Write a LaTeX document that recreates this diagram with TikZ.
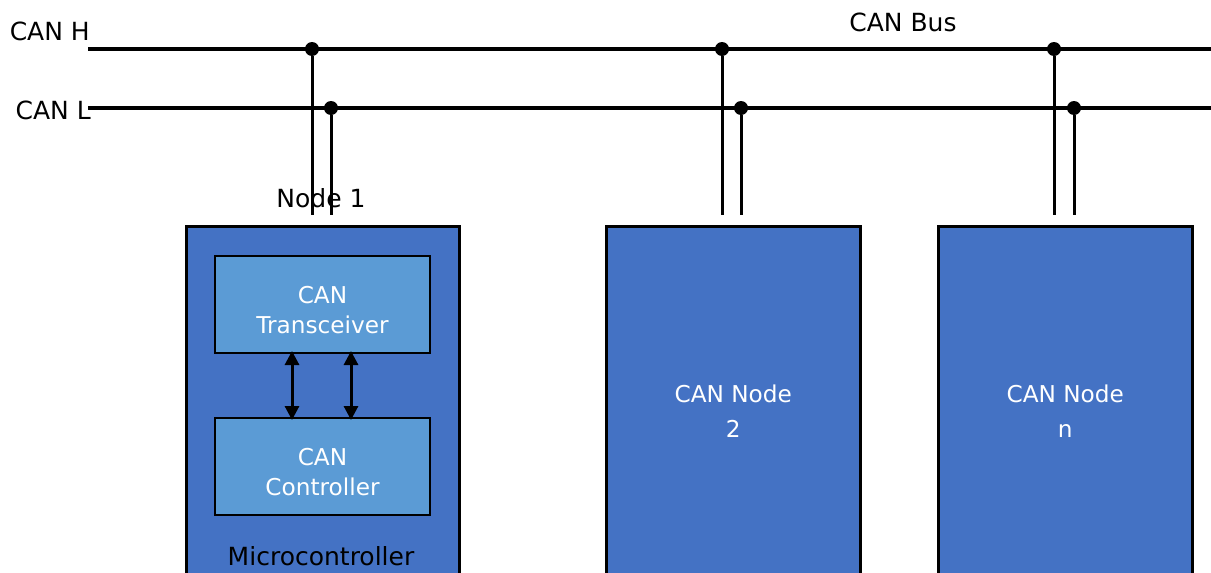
\documentclass[tikz,border=0pt]{standalone}
\usepackage{fontspec}
\setmainfont{DejaVu Sans}
\usetikzlibrary{arrows.meta,calc}
\definecolor{mcblue}{HTML}{4472C4}
\definecolor{subblue}{HTML}{5B9BD5}
\begin{document}
\begin{tikzpicture}[x=1pt,y=-1pt,
  bus/.style={line width=3.4pt},
  tap/.style={line width=3pt},
  junction/.style={circle,fill=black,inner sep=0pt,minimum size=14pt},
  mcbox/.style={draw=black,line width=2.5pt,fill=mcblue,anchor=north west},
  nodebox/.style={mcbox,text=white,align=center,font=\fontsize{23.2}{35}\selectfont},
  subtext/.style={text=white,align=center,font=\fontsize{23.2}{30}\selectfont,yshift=-6pt},
  subbox/.style={draw=black,line width=2pt,fill=subblue,
    minimum width=215pt,minimum height=97pt,anchor=north west},
  lbl/.style={font=\fontsize{25}{30}\selectfont,inner sep=0pt},
  dbl/.style={line width=3pt,{Triangle[width=14pt,length=14pt]}-{Triangle[width=14pt,length=14pt]}},
  ]
\useasboundingbox (0,0) rectangle (1211,573);
\clip (0,0) rectangle (1211,573);

% bus lines
\coordinate (hL) at (88,49);
\coordinate (hR) at (1211,49);
\coordinate (lL) at (88,108);
\coordinate (lR) at (1211,108);
\draw[bus] (hL) -- (hR);
\draw[bus] (lL) -- (lR);

\node[lbl,anchor=east] (canh) at (90,31) {CAN H};
\node[lbl,anchor=east] (canl) at (91,110) {CAN L};
\node[lbl] (canbus) at (903,22) {CAN Bus};

% junctions and taps
\node[junction] (h1) at (312,49) {};
\node[junction] (l1) at (331,108) {};
\node[junction] (h2) at (722,49) {};
\node[junction] (l2) at (741,108) {};
\node[junction] (h3) at (1054,49) {};
\node[junction] (l3) at (1074,108) {};
\coordinate (h1e) at (312,215);
\coordinate (l1e) at (331,215);
\coordinate (h2e) at (722,215);
\coordinate (l2e) at (741,215);
\coordinate (h3e) at (1054,215);
\coordinate (l3e) at (1074,215);
\draw[tap] (h1) -- (h1e);
\draw[tap] (l1) -- (l1e);
\draw[tap] (h2) -- (h2e);
\draw[tap] (l2) -- (l2e);
\draw[tap] (h3) -- (h3e);
\draw[tap] (l3) -- (l3e);

% node 1
\node[lbl] (n1lbl) at (321,198) {Node 1};
\node[mcbox,minimum width=273pt,minimum height=370pt] (mc1) at (185,225) {};
\node[subbox,label={[subtext]center:CAN\\Transceiver}] (trx) at (214,255) {};
\node[subbox,label={[subtext]center:CAN\\Controller}] (ctl) at (214,417) {};
\node[lbl] (mclbl) at (321,556) {Microcontroller};
\draw[dbl] ($(trx.south west)+(78,-3)$) -- ($(ctl.north west)+(78,3)$);
\draw[dbl] ($(trx.south west)+(137,-3)$) -- ($(ctl.north west)+(137,3)$);

% other nodes
\node[nodebox,minimum width=254pt,minimum height=370pt] (nd2) at (605,225) {CAN Node\\2};
\node[nodebox,minimum width=254pt,minimum height=370pt] (ndn) at (937,225) {CAN Node\\n};
\end{tikzpicture}
\end{document}
